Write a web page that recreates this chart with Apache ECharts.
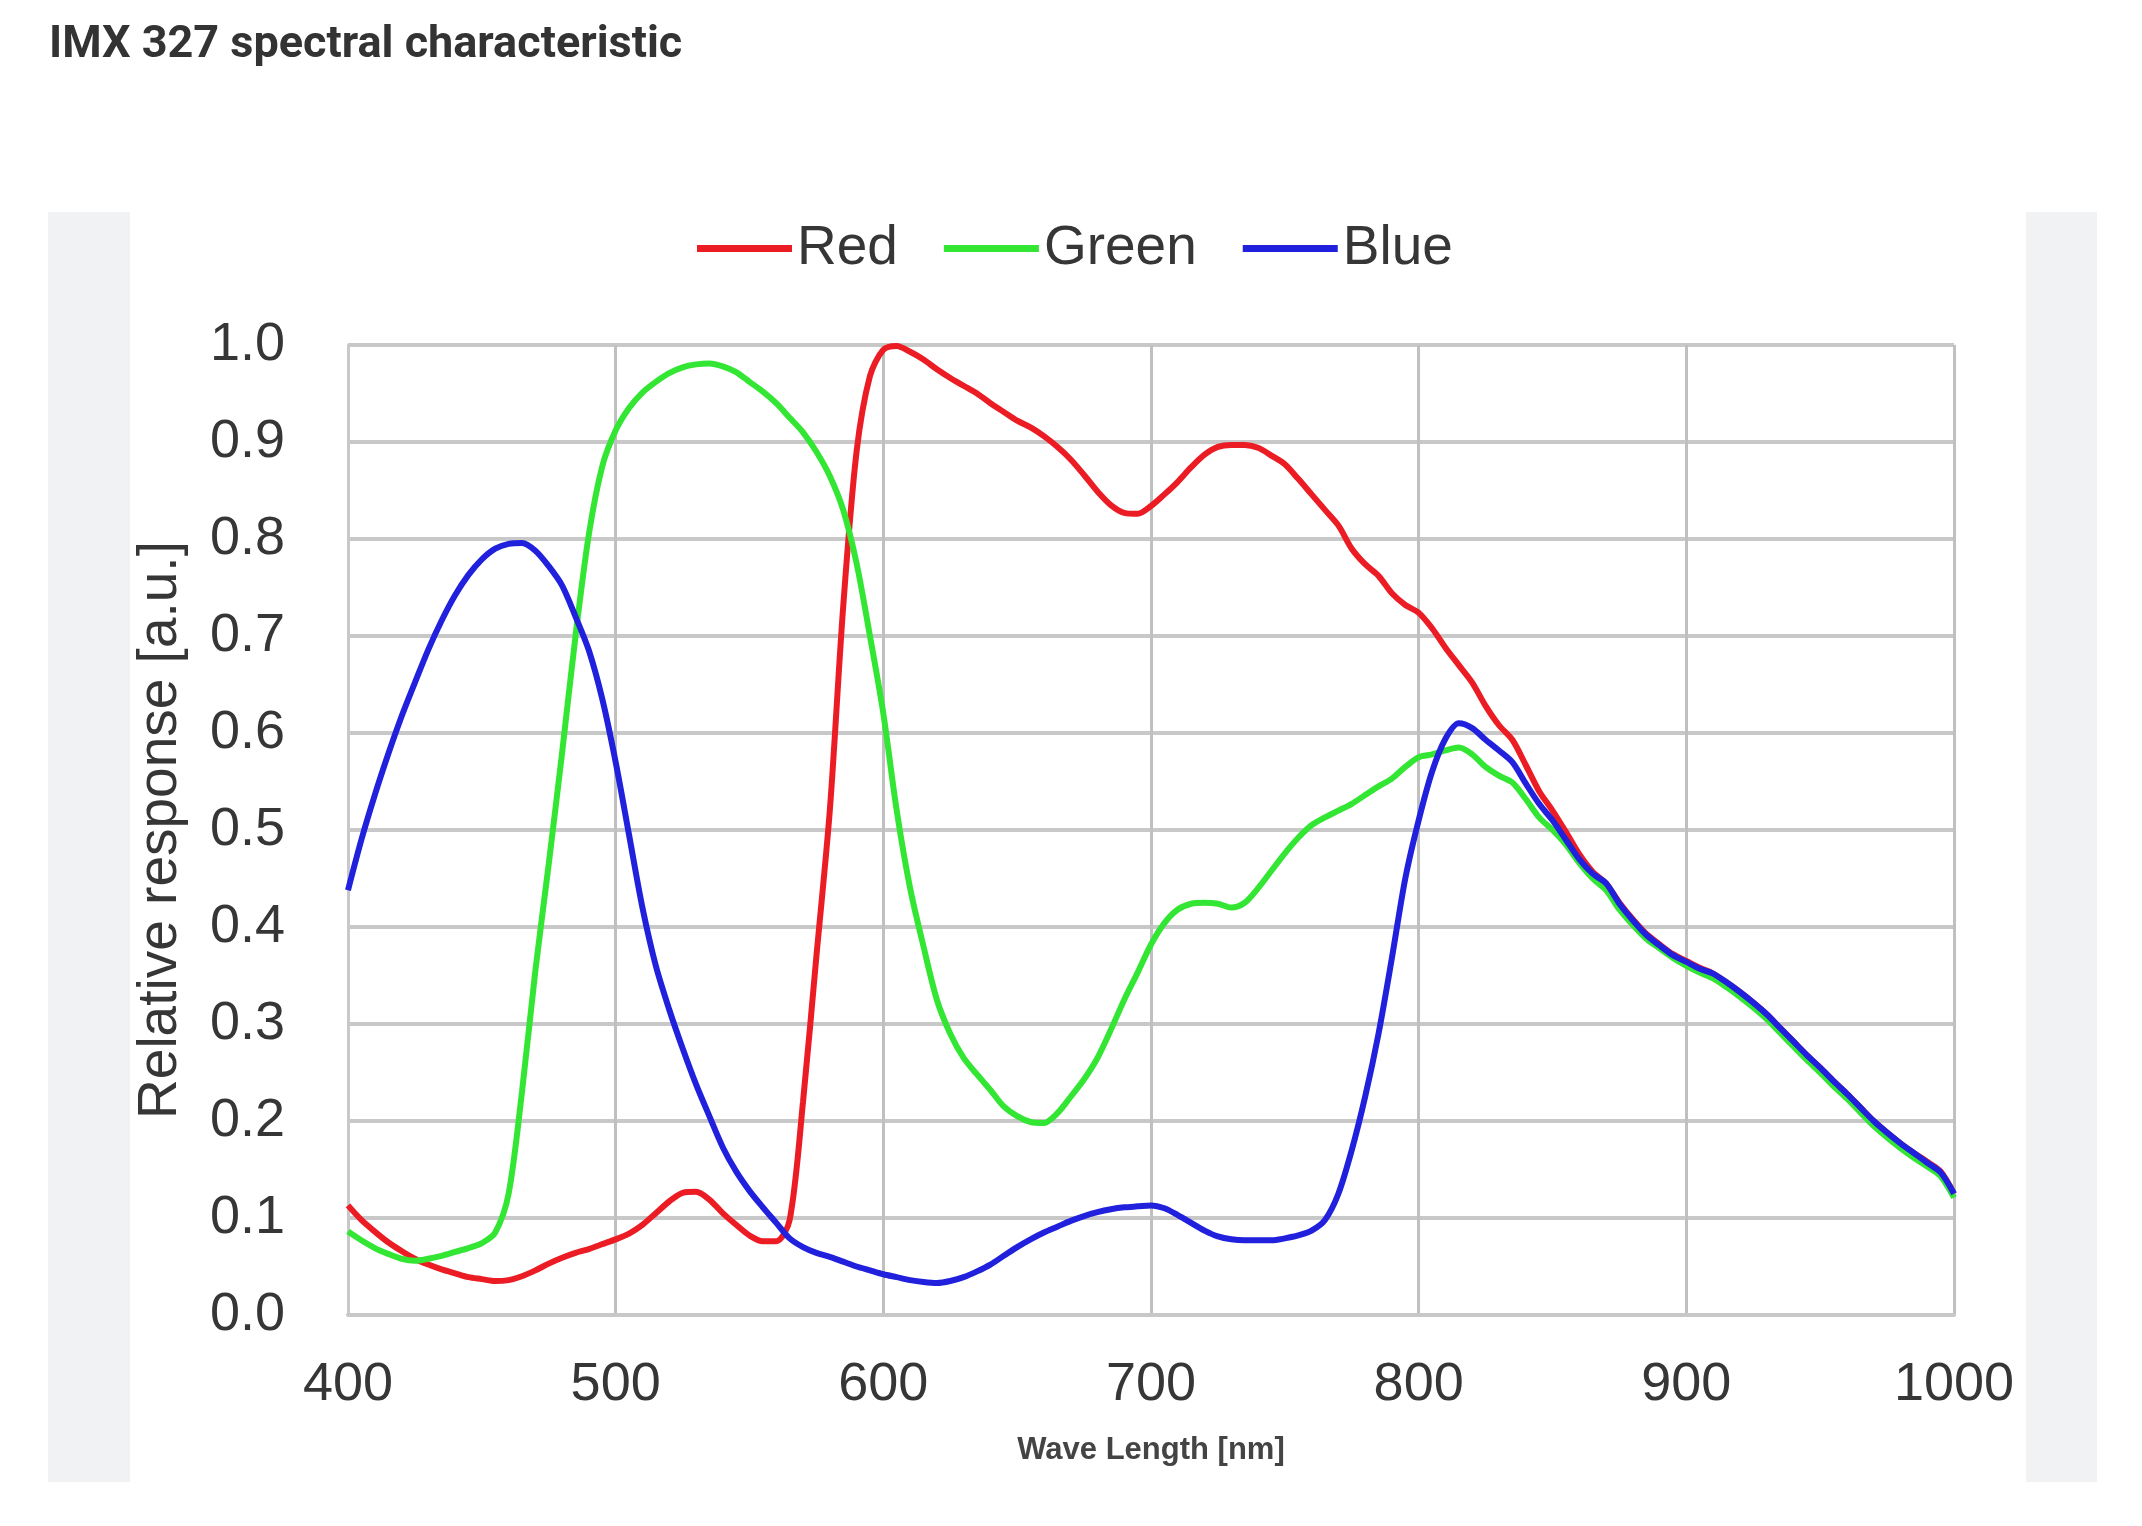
<!DOCTYPE html>
<html>
<head>
<meta charset="utf-8">
<title>IMX 327 spectral characteristic</title>
<script src="https://cdn.jsdelivr.net/npm/echarts@6/dist/echarts.min.js"></script>
<style>
  html, body { margin: 0; padding: 0; background: #fff; }
  #chart { width: 2142px; height: 1526px; }
</style>
</head>
<body>
<div id="chart"></div>
<script>
// wavelength samples, nm
var wavelengths = [
  400,405,410,415,420,425,430,435,440,445,
  450,455,460,465,470,475,480,485,490,495,
  500,505,510,515,520,525,530,535,540,545,
  550,555,560,565,570,575,580,585,590,595,
  600,605,610,615,620,625,630,635,640,645,
  650,655,660,665,670,675,680,685,690,695,
  700,705,710,715,720,725,730,735,740,745,
  750,755,760,765,770,775,780,785,790,795,
  800,805,810,815,820,825,830,835,840,845,
  850,855,860,865,870,875,880,885,890,895,
  900,905,910,915,920,925,930,935,940,945,
  950,955,960,965,970,975,980,985,990,995,
  1000
];

var red = [
  0.113,0.098,0.086,0.075,0.066,0.058,0.052,0.047,0.043,0.039,
  0.037,0.035,0.036,0.040,0.046,0.053,0.059,0.064,0.068,0.073,
  0.078,0.084,0.093,0.105,0.117,0.126,0.127,0.119,0.105,0.093,
  0.082,0.076,0.076,0.098,0.220,0.370,0.520,0.730,0.890,0.968,
  0.995,0.999,0.993,0.985,0.975,0.966,0.958,0.950,0.940,0.931,
  0.922,0.915,0.906,0.895,0.882,0.866,0.849,0.835,0.827,0.826,
  0.834,0.846,0.859,0.874,0.887,0.895,0.897,0.897,0.894,0.886,
  0.877,0.862,0.846,0.830,0.814,0.790,0.774,0.762,0.744,0.732,
  0.724,0.708,0.688,0.670,0.652,0.628,0.608,0.593,0.567,0.540,
  0.520,0.498,0.475,0.457,0.445,0.425,0.408,0.393,0.382,0.372,
  0.365,0.358,0.352,0.343,0.333,0.322,0.310,0.296,0.282,0.268,
  0.255,0.241,0.228,0.214,0.200,0.188,0.177,0.167,0.158,0.148,
  0.125
];

var green = [
  0.086,0.077,0.069,0.063,0.058,0.056,0.058,0.061,0.065,0.069,
  0.074,0.085,0.125,0.230,0.355,0.465,0.580,0.700,0.805,0.875,
  0.912,0.935,0.951,0.962,0.971,0.977,0.980,0.981,0.978,0.972,
  0.962,0.952,0.940,0.925,0.910,0.890,0.865,0.830,0.775,0.700,
  0.620,0.520,0.440,0.380,0.325,0.290,0.265,0.248,0.232,0.215,
  0.205,0.199,0.198,0.208,0.225,0.243,0.265,0.294,0.325,0.353,
  0.382,0.404,0.418,0.424,0.425,0.424,0.420,0.425,0.440,0.458,
  0.476,0.492,0.505,0.513,0.520,0.527,0.536,0.545,0.553,0.565,
  0.575,0.578,0.582,0.585,0.578,0.565,0.556,0.549,0.532,0.513,
  0.500,0.485,0.466,0.450,0.438,0.418,0.402,0.388,0.378,0.368,
  0.360,0.353,0.347,0.338,0.328,0.317,0.305,0.291,0.277,0.263,
  0.250,0.236,0.223,0.209,0.195,0.183,0.172,0.162,0.153,0.143,
  0.121
];

var blue = [
  0.438,0.490,0.536,0.578,0.617,0.652,0.686,0.716,0.742,0.763,
  0.779,0.790,0.795,0.796,0.788,0.772,0.752,0.720,0.685,0.635,
  0.570,0.495,0.420,0.360,0.315,0.275,0.238,0.205,0.173,0.148,
  0.128,0.111,0.095,0.079,0.070,0.064,0.060,0.055,0.050,0.046,
  0.042,0.039,0.036,0.034,0.033,0.035,0.039,0.045,0.052,0.061,
  0.070,0.078,0.085,0.091,0.097,0.102,0.106,0.109,0.111,0.112,
  0.113,0.110,0.103,0.095,0.087,0.081,0.078,0.077,0.077,0.077,
  0.079,0.082,0.087,0.098,0.125,0.170,0.225,0.290,0.368,0.450,
  0.510,0.560,0.594,0.610,0.605,0.593,0.582,0.570,0.548,0.527,
  0.510,0.490,0.470,0.455,0.445,0.424,0.407,0.392,0.381,0.371,
  0.364,0.357,0.352,0.343,0.333,0.322,0.310,0.296,0.282,0.268,
  0.255,0.241,0.228,0.214,0.200,0.188,0.177,0.167,0.157,0.147,
  0.125
];

var seriesNames = ['Red', 'Green', 'Blue'];
var seriesColors = ['#ec1c24', '#33e633', '#2020dd'];

function pairs(values) {
  return wavelengths.map(function (w, i) { return [w, values[i]]; });
}

var chart = echarts.init(document.getElementById('chart'));
var gridColor = '#c8c8c8';
var textColor = '#363636';
var font = 'Liberation Sans';

var option = {
  animation: false,
  title: {
    text: 'IMX 327 spectral characteristic',
    left: 44,
    top: 18,
    textStyle: { fontFamily: 'Roboto', fontWeight: 'bold', fontSize: 45, color: '#333' }
  },
  graphic: [
    { type: 'rect', z: -10, shape: { x: 48, y: 212, width: 2049, height: 1270 }, style: { fill: '#f1f2f4' } },
    { type: 'rect', z: -9, shape: { x: 130, y: 212, width: 1896, height: 1270 }, style: { fill: '#ffffff' } }
  ],
  legend: {
    data: seriesNames,
    left: 692,
    top: 216,
    icon: 'rect',
    itemWidth: 95,
    itemHeight: 7,
    itemGap: 46,
    textStyle: { fontFamily: font, fontSize: 55, color: textColor }
  },
  grid: { left: 348, right: 188, top: 345, bottom: 211 },
  xAxis: {
    type: 'value',
    min: 400,
    max: 1000,
    interval: 100,
    name: 'Wave Length [nm]',
    nameLocation: 'middle',
    nameGap: 120,
    nameTextStyle: { fontFamily: font, fontSize: 31, fontWeight: 'bold', color: '#444' },
    axisLine: { show: true, lineStyle: { color: gridColor, width: 4 } },
    axisTick: { show: false },
    axisLabel: {
      fontFamily: font, fontSize: 54, color: textColor, margin: 43,
      formatter: function (v) { return String(v); }
    },
    splitLine: { show: true, lineStyle: { color: '#c0c0c0', width: 3 } }
  },
  yAxis: {
    type: 'value',
    min: 0,
    max: 1,
    interval: 0.1,
    name: 'Relative response [a.u.]',
    nameLocation: 'middle',
    nameGap: 160,
    nameTextStyle: { fontFamily: font, fontSize: 55, color: textColor },
    axisLine: { show: true, lineStyle: { color: gridColor, width: 3 } },
    axisTick: { show: false },
    axisLabel: {
      fontFamily: font, fontSize: 54, color: textColor, margin: 63,
      formatter: function (v) { return v.toFixed(1); }
    },
    splitLine: { show: true, lineStyle: { color: gridColor, width: 4 } }
  },
  series: [red, green, blue].map(function (vals, i) {
    return {
      name: seriesNames[i],
      type: 'line',
      data: pairs(vals),
      smooth: 0.3,
      symbol: 'none',
      color: seriesColors[i],
      lineStyle: { width: 6, color: seriesColors[i] }
    };
  })
};

chart.setOption(option);
</script>
</body>
</html>
